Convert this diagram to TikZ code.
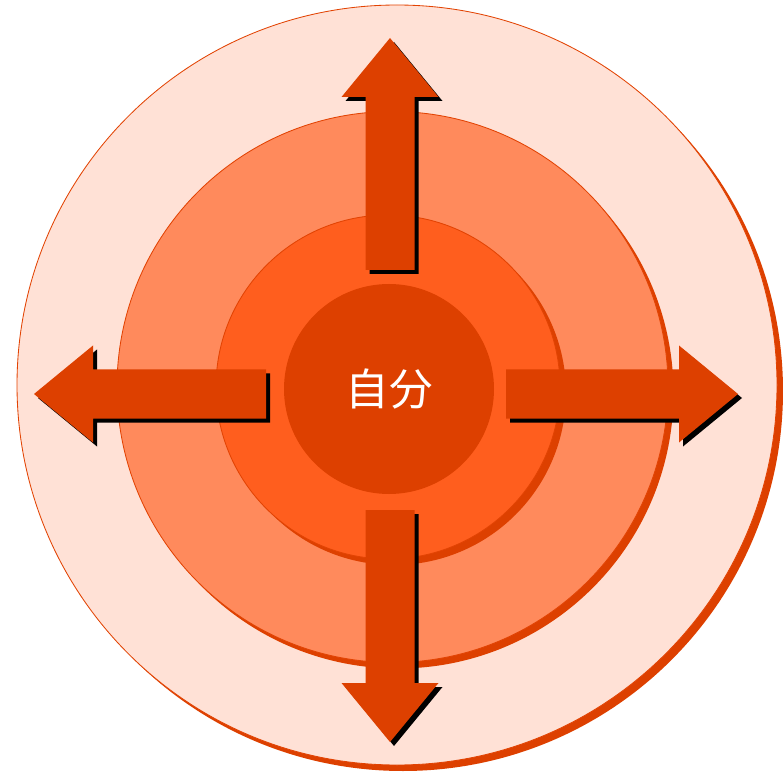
\documentclass[tikz,border=0pt]{standalone}
\usepackage{fontspec}
\newfontfamily\cjk{Noto Sans CJK JP}
\usetikzlibrary{positioning}
\definecolor{ringpale}{HTML}{FFE1D6}
\definecolor{ringmid}{HTML}{FF8A5C}
\definecolor{ringinner}{HTML}{FF5E1E}
\definecolor{selfdark}{HTML}{DD4000}
\definecolor{ringedge}{HTML}{E24303}
\newcommand{\pxu}{0.025cm}

\begin{document}
\begin{tikzpicture}[x=0.025cm,y=-0.025cm,
  ring/.style={circle,draw=ringedge,line width=0.6pt,inner sep=0pt},
  ringshadow/.style={circle,fill=selfdark,inner sep=0pt},
  blockarrow/.style={fill=selfdark},
  arrowshadow/.style={fill=black}
]
\useasboundingbox (0,0) rectangle (783,774);

% rings, each with its offset shadow
\node[ringshadow,minimum size=760*\pxu] at (403,391) {};
\node[ring,fill=ringpale,minimum size=760*\pxu] (outer) at (397,385) {};
\node[ringshadow,minimum size=551*\pxu] at (398,393) {};
\node[ring,fill=ringmid,minimum size=551*\pxu] (middle) at (392.5,387) {};
\node[ringshadow,minimum size=344*\pxu] at (394,393) {};
\node[ring,fill=ringinner,minimum size=344*\pxu] (inner) at (388,387) {};
\node[circle,fill=selfdark,inner sep=0pt,minimum size=210*\pxu,
  font=\cjk\fontsize{31}{32}\selectfont,text=white] (self) at (389,389) {自分};

% four block arrows pointing outwards
\foreach \ang/\cx/\cy in {0/386/394,90/390/390,180/386/394,270/390/390}{
  \begin{scope}[shift={(\cx,\cy)}]
    \fill[arrowshadow,shift={(4,4)},rotate=\ang]
      (120,-24.5) -- (293,-24.5) -- (293,-48.5) -- (352,0)
      -- (293,48.5) -- (293,24.5) -- (120,24.5) -- cycle;
    \fill[blockarrow,rotate=\ang]
      (120,-24.5) -- (293,-24.5) -- (293,-48.5) -- (352,0)
      -- (293,48.5) -- (293,24.5) -- (120,24.5) -- cycle;
  \end{scope}
}
\end{tikzpicture}
\end{document}
